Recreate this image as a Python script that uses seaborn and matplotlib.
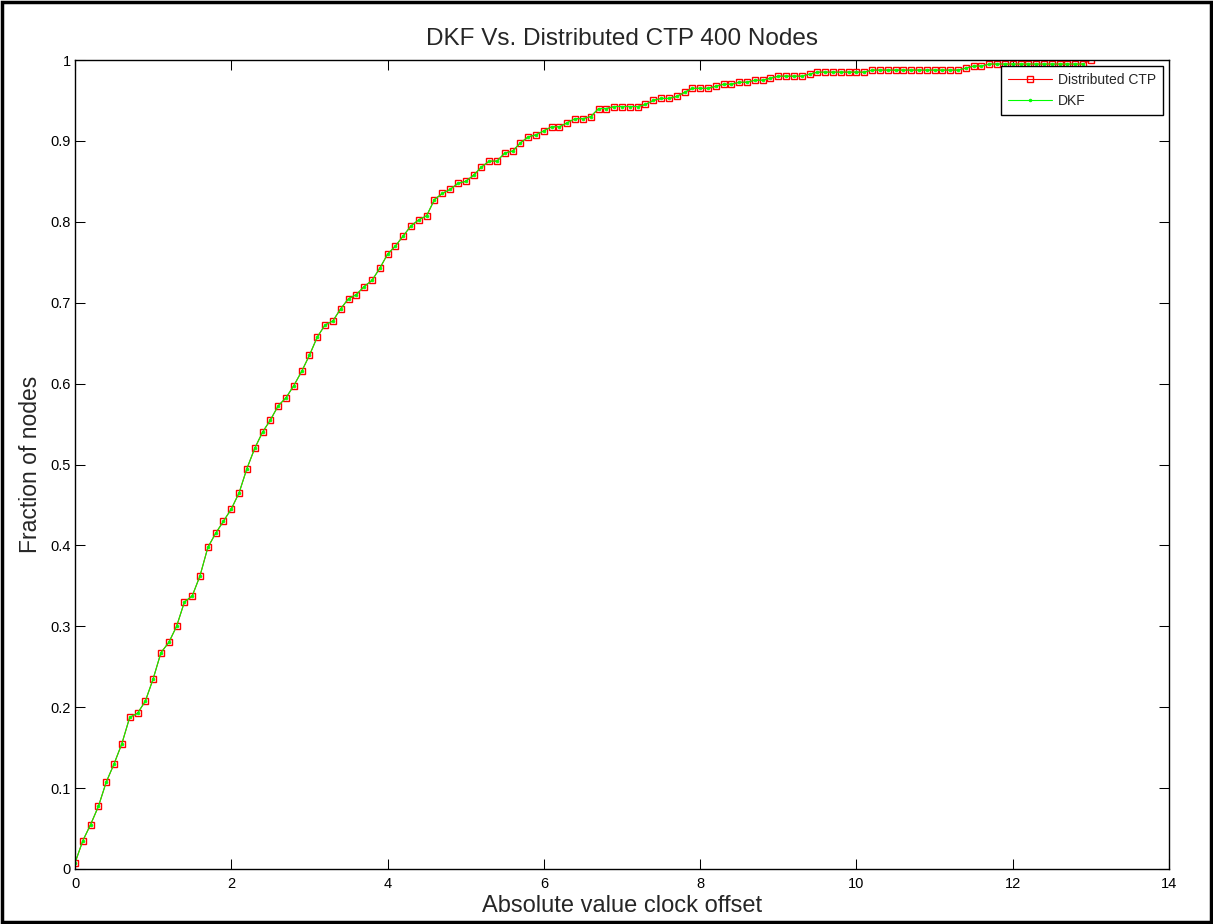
import numpy as np
import matplotlib
matplotlib.use("Agg")
import matplotlib.pyplot as plt
import seaborn as sns
from matplotlib.patches import Rectangle

# Fraction of nodes (CDF) sampled every 0.1 of clock offset, starting at 0
ctp_y = [
    0.0075, 0.035, 0.055, 0.0775, 0.1075, 0.13, 0.155, 0.1875, 0.1925, 0.2075,
    0.235, 0.2675, 0.28, 0.30, 0.33, 0.3375, 0.3625, 0.3975, 0.415, 0.43,
    0.445, 0.465, 0.495, 0.52, 0.54, 0.555, 0.5725, 0.5825, 0.5975, 0.615,
    0.635, 0.6575, 0.6725, 0.6775, 0.6925, 0.705, 0.71, 0.72, 0.7275, 0.7425,
    0.76, 0.77, 0.7825, 0.795, 0.8025, 0.8075, 0.8275, 0.835, 0.84, 0.8475,
    0.85, 0.8575, 0.8675, 0.875, 0.875, 0.885, 0.8875, 0.8975, 0.905, 0.9075,
    0.9125, 0.9175, 0.9175, 0.9225, 0.9275, 0.9275, 0.93, 0.94, 0.94, 0.9425,
    0.9425, 0.9425, 0.9425, 0.945, 0.95, 0.9525, 0.9525, 0.955, 0.96, 0.965,
    0.965, 0.965, 0.9675, 0.97, 0.97, 0.9725, 0.9725, 0.975, 0.975, 0.9775,
    0.98, 0.98, 0.98, 0.98, 0.9825, 0.985, 0.985, 0.985, 0.985, 0.985,
    0.985, 0.985, 0.9875, 0.9875, 0.9875, 0.9875, 0.9875, 0.9875, 0.9875, 0.9875,
    0.9875, 0.9875, 0.9875, 0.9875, 0.99, 0.9925, 0.9925, 0.995, 0.995, 0.995,
    0.995, 0.995, 0.995, 0.995, 0.995, 0.995, 0.995, 0.995, 0.995, 0.995,
    1.0,
]
dkf_y = [
    0.0075, 0.035, 0.055, 0.0775, 0.1075, 0.13, 0.155, 0.1875, 0.1925, 0.2075,
    0.235, 0.2675, 0.28, 0.30, 0.33, 0.3375, 0.3625, 0.3975, 0.415, 0.43,
    0.445, 0.465, 0.495, 0.52, 0.54, 0.555, 0.5725, 0.5825, 0.5975, 0.615,
    0.635, 0.6575, 0.6725, 0.6775, 0.6925, 0.705, 0.71, 0.72, 0.7275, 0.7425,
    0.76, 0.77, 0.7825, 0.795, 0.8025, 0.8075, 0.8275, 0.835, 0.84, 0.8475,
    0.85, 0.8575, 0.8675, 0.875, 0.875, 0.885, 0.8875, 0.8975, 0.905, 0.9075,
    0.9125, 0.9175, 0.9175, 0.9225, 0.9275, 0.9275, 0.93, 0.94, 0.94, 0.9425,
    0.9425, 0.9425, 0.9425, 0.945, 0.95, 0.9525, 0.9525, 0.955, 0.96, 0.965,
    0.965, 0.965, 0.9675, 0.97, 0.97, 0.9725, 0.9725, 0.975, 0.975, 0.9775,
    0.98, 0.98, 0.98, 0.98, 0.9825, 0.985, 0.985, 0.985, 0.985, 0.985,
    0.985, 0.985, 0.9875, 0.9875, 0.9875, 0.9875, 0.9875, 0.9875, 0.9875, 0.9875,
    0.9875, 0.9875, 0.9875, 0.9875, 0.99, 0.9925, 0.9925, 0.995, 0.995, 0.995,
    0.995, 0.995, 0.995, 0.995, 0.995, 0.995, 0.995, 0.995, 0.995, 0.995,
]
x_step = 0.1
ctp_x = np.round(np.arange(len(ctp_y)) * x_step, 1)
dkf_x = np.round(np.arange(len(dkf_y)) * x_step, 1)

x_ticks = [0, 2, 4, 6, 8, 10, 12, 14]
y_ticks = [0, 0.1, 0.2, 0.3, 0.4, 0.5, 0.6, 0.7, 0.8, 0.9, 1]
y_tick_labels = ["0", "0.1", "0.2", "0.3", "0.4", "0.5", "0.6", "0.7", "0.8", "0.9", "1"]

sns.set_style("ticks")
plt.rcParams['font.family'] = ['Liberation Sans', 'DejaVu Sans']

W, H = 1213, 924
fig = plt.figure(figsize=(W / 100, H / 100), dpi=100)
ax = fig.add_axes([75 / W, 1 - 869 / H, (1169 - 75) / W, (869 - 60) / H])

sns.lineplot(x=ctp_x, y=ctp_y, ax=ax, color='red', linewidth=0.8,
             marker='s', markersize=5, markerfacecolor='none',
             markeredgecolor='red', markeredgewidth=1.0,
             label='Distributed CTP', sort=False)
sns.lineplot(x=dkf_x, y=dkf_y, ax=ax, color='#00ff00', linewidth=0.8,
             marker='.', markersize=4, markerfacecolor='#00ff00',
             markeredgecolor='#00ff00', markeredgewidth=0.5,
             label='DKF', sort=False)

ax.set_xlim(0, 14)
ax.set_ylim(0, 1)
ax.set_xticks(x_ticks)
ax.set_xticklabels([str(t) for t in x_ticks])
ax.set_yticks(y_ticks)
ax.set_yticklabels(y_tick_labels)
ax.tick_params(direction='in', length=7.5, width=0.75, top=True, right=True,
               labelsize=10.5, colors='black')
ax.tick_params(axis='y', pad=3)
ax.tick_params(axis='x', pad=6)
for s in ax.spines.values():
    s.set_visible(True)
    s.set_color('black')
    s.set_linewidth(1.0)

ax.set_title('DKF Vs. Distributed CTP 400 Nodes', fontsize=17.5, pad=11)
ax.set_xlabel('Absolute value clock offset', fontsize=17, labelpad=3)
ax.set_ylabel('Fraction of nodes', fontsize=16.5, labelpad=6)

leg = ax.legend(loc='upper right', fontsize=10, frameon=True, fancybox=False,
                framealpha=1, edgecolor='black', borderaxespad=0.45,
                handlelength=3.2, handletextpad=0.4, borderpad=0.5,
                labelspacing=0.5)
leg.get_frame().set_linewidth(1.0)

fig.patches.append(Rectangle((0.0015, 0.002), 0.997, 0.996, transform=fig.transFigure,
                             fill=False, edgecolor='black', linewidth=2.5))

fig.savefig('out.png', dpi=100, facecolor='white')
